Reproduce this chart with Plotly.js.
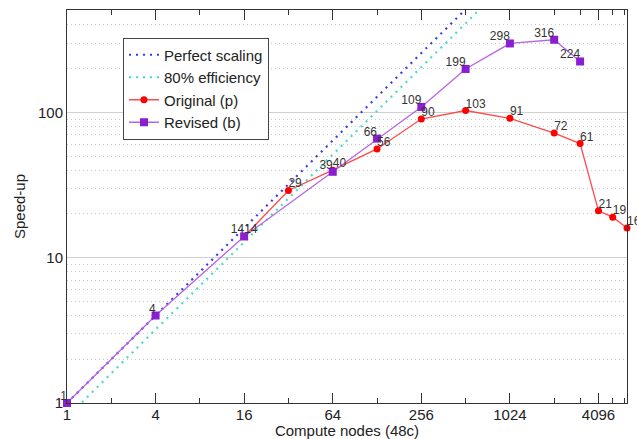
<!DOCTYPE html>
<html>
<head>
<meta charset="utf-8">
<script src="https://cdn.plot.ly/plotly-3.0.1.min.js"></script>
<style>html,body{margin:0;padding:0;background:#fff;}#chart{width:637px;height:439px;}</style>
</head>
<body>
<div id="chart"></div>
<script>
// Reference lines (ideal speed-up and 80% of it), end points only
const perfectNodes = [1, 6400];
const perfectSpeedup = [1, 6400];
const effNodes = [1, 6400];
const effSpeedup = [0.8, 5120];

// Original (p)
const origNodes = [16, 32, 64, 128, 256, 512, 1024, 2048, 3072, 4096, 5120, 6400];
const origSpeedup = [14, 29, 40, 56, 90, 103, 91, 72, 61, 21, 19, 16];

// Revised (b)
const revNodes = [1, 4, 16, 64, 128, 256, 512, 1024, 2048, 3072];
const revSpeedup = [1, 4, 14, 39, 66, 109, 199, 298, 316, 224];

// Axis ticks
const xTickVals = [1, 4, 16, 64, 256, 1024, 4096];
const xTickText = ["1", "4", "16", "64", "256", "1024", "4096"];
const xMinorVals = [2, 8, 32, 128, 512, 2048, 3072, 5120, 6144];
const yTickVals = [1, 10, 100];
const yTickText = ["1", "10", "100"];
const yMinorVals = [2,3,4,5,6,7,8,9,20,30,40,50,60,70,80,90,200,300,400,500];

const FONT = '"Liberation Sans", Arial, Helvetica, sans-serif';
const LABELFONT = {family: FONT, size: 12, color: '#333'};

const traces = [
  {x: perfectNodes, y: perfectSpeedup, name: 'Perfect scaling', mode: 'lines',
   line: {color: '#3a3ae6', width: 2.2, dash: '2px,5px'}, hoverinfo: 'skip'},
  {x: effNodes, y: effSpeedup, name: '80% efficiency', mode: 'lines',
   line: {color: '#44dcc8', width: 2.2, dash: '2px,5px'}, hoverinfo: 'skip'},
  {x: origNodes, y: origSpeedup, name: 'Original (p)', mode: 'lines+markers',
   line: {color: '#ff4a4a', width: 1.3},
   marker: {color: '#ff0000', size: 7, symbol: 'circle'}, cliponaxis: false},
  {x: revNodes, y: revSpeedup, name: 'Revised (b)', mode: 'lines+markers',
   line: {color: '#b565e6', width: 1.3},
   marker: {color: '#8a1ed0', size: 8, symbol: 'square'}, cliponaxis: false},
  // value labels (text-only so they sit close to the points)
  {x: origNodes, y: origSpeedup, mode: 'text', text: origSpeedup.map(String),
   textposition: 'top right', textfont: LABELFONT, showlegend: false, cliponaxis: false, hoverinfo: 'skip'},
  {x: revNodes, y: revSpeedup, mode: 'text', text: revSpeedup.map(String),
   textposition: 'top left', textfont: LABELFONT, showlegend: false, cliponaxis: false, hoverinfo: 'skip'}
];

const layout = {
  width: 637, height: 439,
  margin: {l: 67, r: 10, t: 10, b: 36, pad: 0},
  paper_bgcolor: '#fff', plot_bgcolor: '#fff',
  font: {family: FONT, size: 15, color: '#222'},
  showlegend: true,
  legend: {x: 0.1, y: 0.93, xanchor: 'left', yanchor: 'top',
           bgcolor: '#fff', bordercolor: '#444', borderwidth: 1,
           font: {family: FONT, size: 15, color: '#222'}, tracegroupgap: 0},
  xaxis: {
    type: 'log', range: [0, Math.log10(6400)], autorange: false,
    tickmode: 'array', tickvals: xTickVals, ticktext: xTickText,
    ticks: 'inside', ticklen: 10, tickwidth: 1, tickcolor: '#333',
    showline: true, linecolor: '#333', linewidth: 1, mirror: 'ticks',
    showgrid: false, zeroline: false,
    minor: {tickmode: 'array', tickvals: xMinorVals, ticks: 'inside', ticklen: 5, tickcolor: '#333', showgrid: false},
    tickfont: {family: FONT, size: 15, color: '#222'},
    ticklabelstandoff: -2,
    title: {text: 'Compute nodes (48c)', font: {family: FONT, size: 15, color: '#222'}, standoff: 2},
    automargin: false
  },
  yaxis: {
    type: 'log', range: [0, 2.7045], autorange: false,
    tickmode: 'array', tickvals: yTickVals, ticktext: yTickText,
    ticks: '', showline: true, linecolor: '#333', linewidth: 1, mirror: true,
    showgrid: true, gridcolor: '#d0d0d0', gridwidth: 1, zeroline: false,
    minor: {tickmode: 'array', tickvals: yMinorVals, ticks: '', showgrid: true, gridcolor: '#c8c8c8', griddash: '1px,3px', gridwidth: 1},
    tickfont: {family: FONT, size: 15, color: '#222'},
    title: {text: 'Speed-up', font: {family: FONT, size: 15, color: '#222'}, standoff: 8},
    automargin: false
  }
};

Plotly.newPlot('chart', traces, layout, {displayModeBar: false, staticPlot: true});
</script>
</body>
</html>
